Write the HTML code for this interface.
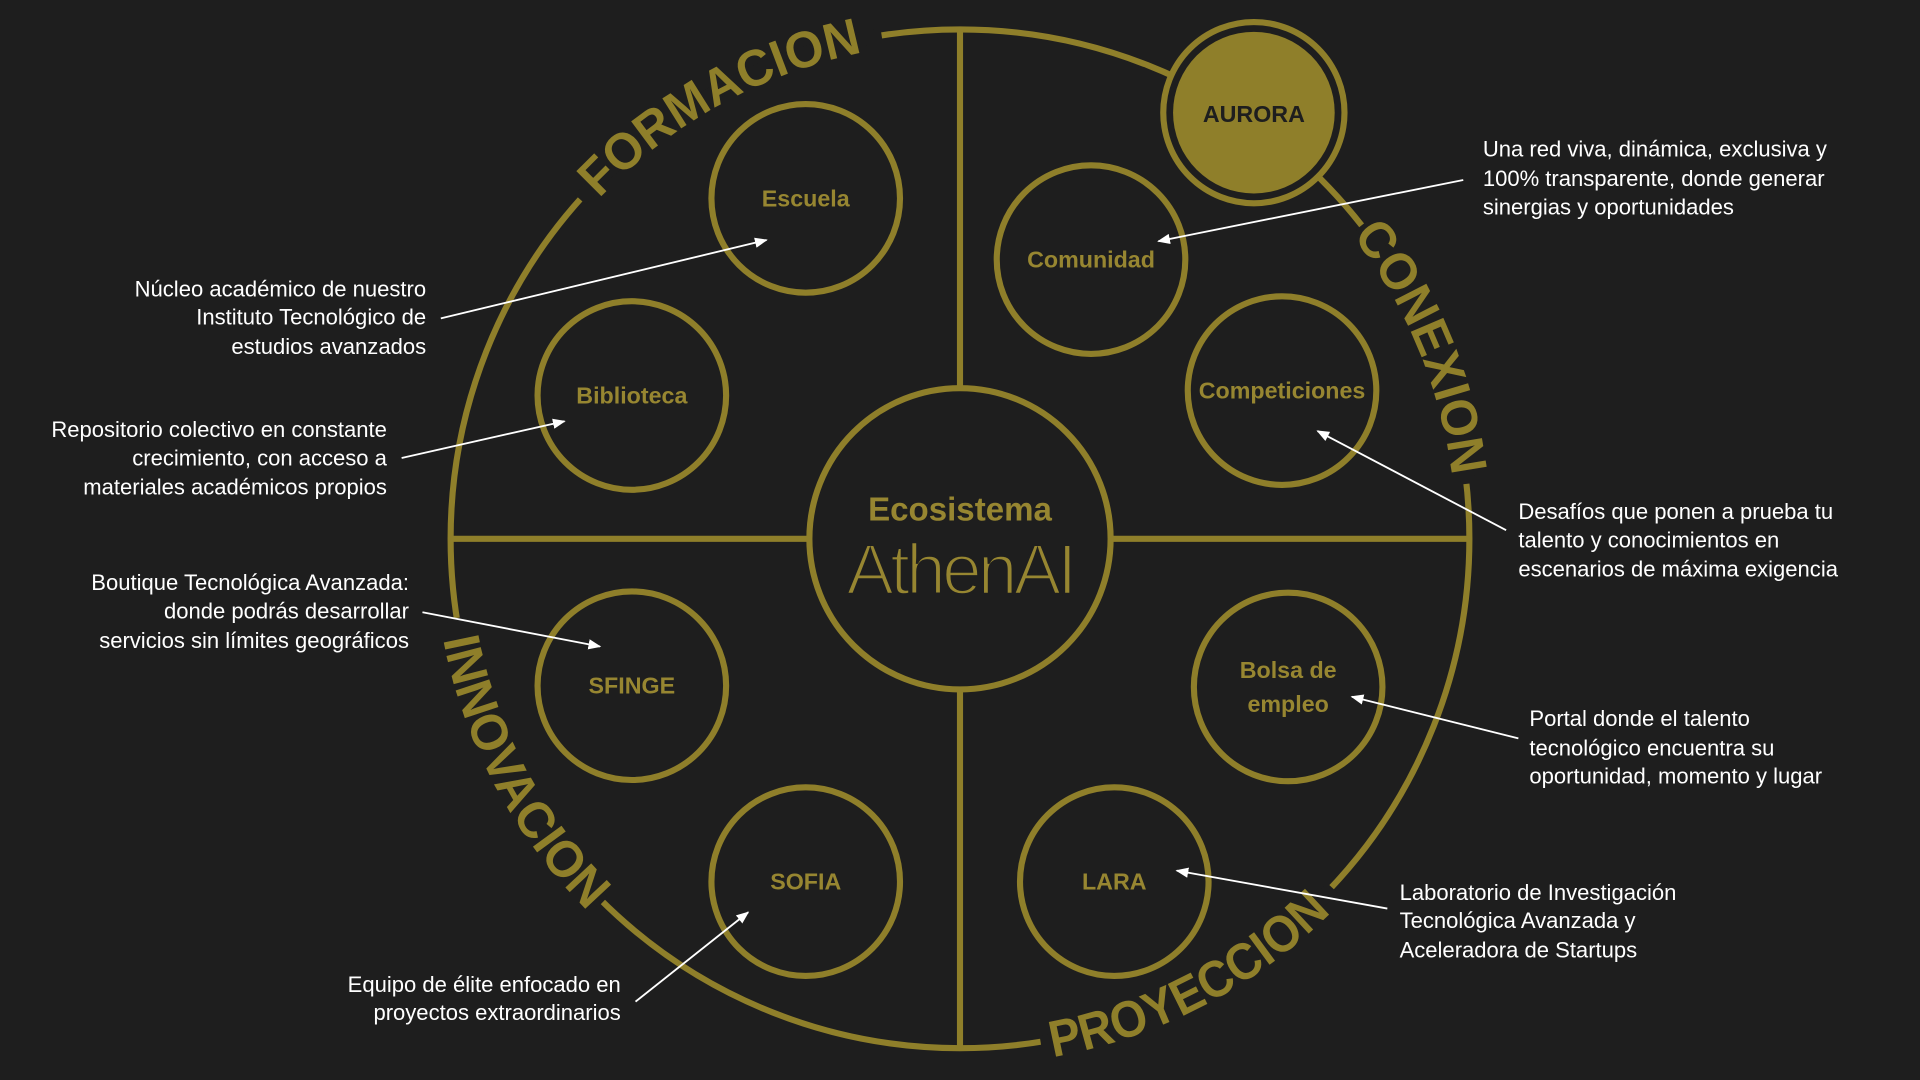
<!DOCTYPE html>
<html><head><meta charset="utf-8"><style>
html,body{margin:0;padding:0;background:#1e1e1e;}
svg{display:block;}
.lab{font-family:"Liberation Sans",sans-serif;font-size:18px;fill:#ffffff;}
.node{font-family:"Liberation Sans",sans-serif;font-weight:bold;font-size:19px;fill:#978631;text-anchor:middle;dominant-baseline:central;}
.arc{font-family:"Liberation Sans",sans-serif;font-weight:bold;font-size:42px;fill:#8f7f2a;}
</style></head><body>
<svg width="1920" height="1080" viewBox="0 0 1568 882" xmlns="http://www.w3.org/2000/svg">
<defs>
<marker id="ah" viewBox="0 0 10 10" refX="9" refY="5" markerWidth="7" markerHeight="7" orient="auto"><path d="M0,1 L10,5 L0,9 z" fill="#fff"/></marker>
<path id="pF" d="M473.8,179.7 A405,405 0 0 1 727.6,39.0"/>
<path id="pC" d="M1094.2,179.7 A405,405 0 0 1 1187.5,404.7"/>
<path id="pI" d="M358.2,499.8 A430,430 0 0 0 496.3,759.5"/>
<path id="pP" d="M836.4,866.8 A430,430 0 0 0 1103.6,727.8"/>
</defs>
<rect width="1568" height="882" fill="#1e1e1e"/>
<g stroke="#8f7f2a" stroke-width="5" fill="none">
<circle cx="784" cy="440" r="416"/>
<line x1="368" y1="440" x2="660" y2="440"/>
<line x1="908" y1="440" x2="1200" y2="440"/>
<line x1="784" y1="24" x2="784" y2="316"/>
<line x1="784" y1="564" x2="784" y2="856"/>
</g>
<g stroke="#1e1e1e" stroke-width="12" fill="none">
<path d="M474,163 A416,416 0 0 1 720,29"/>
<path d="M1112,184 A416,416 0 0 1 1199,395"/>
<path d="M492,737 A416,416 0 0 1 371,505"/>
<path d="M1088,725 A416,416 0 0 1 850,852"/>
</g>
<text class="arc"><textPath href="#pF" startOffset="50%" text-anchor="middle" textLength="250" lengthAdjust="spacingAndGlyphs">FORMACION</textPath></text>
<text class="arc"><textPath href="#pC" startOffset="50%" text-anchor="middle" textLength="215" lengthAdjust="spacingAndGlyphs">CONEXION</textPath></text>
<text class="arc"><textPath href="#pI" startOffset="50%" text-anchor="middle" textLength="255" lengthAdjust="spacingAndGlyphs">INNOVACION</textPath></text>
<text class="arc"><textPath href="#pP" startOffset="50%" text-anchor="middle" textLength="260" lengthAdjust="spacingAndGlyphs">PROYECCION</textPath></text>
<g stroke="#8f7f2a" stroke-width="5" fill="#1e1e1e">
<circle cx="784" cy="440" r="123"/>
<circle cx="658" cy="162" r="77"/>
<circle cx="516" cy="323" r="77"/>
<circle cx="891" cy="212" r="77"/>
<circle cx="1047" cy="319" r="77"/>
<circle cx="516" cy="560" r="77"/>
<circle cx="658" cy="720" r="77"/>
<circle cx="1052" cy="561" r="77"/>
<circle cx="910" cy="720" r="77"/>
<circle cx="1024" cy="92" r="74"/>
</g>
<circle cx="1024" cy="92" r="66" fill="#8f7f2a"/>
<text class="node" x="1024" y="93" style="fill:#1e1e1e">AURORA</text>
<text class="node" x="658" y="162">Escuela</text>
<text class="node" x="516" y="323">Biblioteca</text>
<text class="node" x="891" y="212">Comunidad</text>
<text class="node" x="1047" y="319">Competiciones</text>
<text class="node" x="516" y="560">SFINGE</text>
<text class="node" x="658" y="720">SOFIA</text>
<text class="node" x="1052" y="547">Bolsa de</text>
<text class="node" x="1052" y="575">empleo</text>
<text class="node" x="910" y="720">LARA</text>
<text x="784" y="425" font-family="Liberation Sans,sans-serif" font-weight="bold" font-size="27" fill="#978631" text-anchor="middle">Ecosistema</text>
<text x="784" y="485" font-family="Liberation Sans,sans-serif" font-size="58" fill="#978631" text-anchor="middle" letter-spacing="-3" stroke="#1e1e1e" stroke-width="2">AthenAI</text>
<g class="lab" text-anchor="end">
<text x="348" y="242">Núcleo académico de nuestro</text><text x="348" y="265">Instituto Tecnológico de</text><text x="348" y="289">estudios avanzados</text>
<text x="316" y="357">Repositorio colectivo en constante</text><text x="316" y="380">crecimiento, con acceso a</text><text x="316" y="404">materiales académicos propios</text>
<text x="334" y="482">Boutique Tecnológica Avanzada:</text><text x="334" y="505">donde podrás desarrollar</text><text x="334" y="529">servicios sin límites geográficos</text>
<text x="507" y="810">Equipo de élite enfocado en</text><text x="507" y="833">proyectos extraordinarios</text>
</g>
<g class="lab">
<text x="1211" y="128">Una red viva, dinámica, exclusiva y</text><text x="1211" y="152">100% transparente, donde generar</text><text x="1211" y="175">sinergias y oportunidades</text>
<text x="1240" y="424">Desafíos que ponen a prueba tu</text><text x="1240" y="447">talento y conocimientos en</text><text x="1240" y="471">escenarios de máxima exigencia</text>
<text x="1249" y="593">Portal donde el talento</text><text x="1249" y="617">tecnológico encuentra su</text><text x="1249" y="640">oportunidad, momento y lugar</text>
<text x="1143" y="735">Laboratorio de Investigación</text><text x="1143" y="758">Tecnológica Avanzada y</text><text x="1143" y="782">Aceleradora de Startups</text>
</g>
<g stroke="#fff" stroke-width="1.5" marker-end="url(#ah)">
<line x1="360" y1="260" x2="626" y2="196"/>
<line x1="328" y1="374" x2="461" y2="344"/>
<line x1="345" y1="500" x2="490" y2="528"/>
<line x1="519" y1="818" x2="611" y2="745"/>
<line x1="1195" y1="147" x2="946" y2="197"/>
<line x1="1230" y1="433" x2="1076" y2="352"/>
<line x1="1240" y1="603" x2="1104" y2="569"/>
<line x1="1133" y1="742" x2="961" y2="711"/>
</g>
</svg>
</body></html>
